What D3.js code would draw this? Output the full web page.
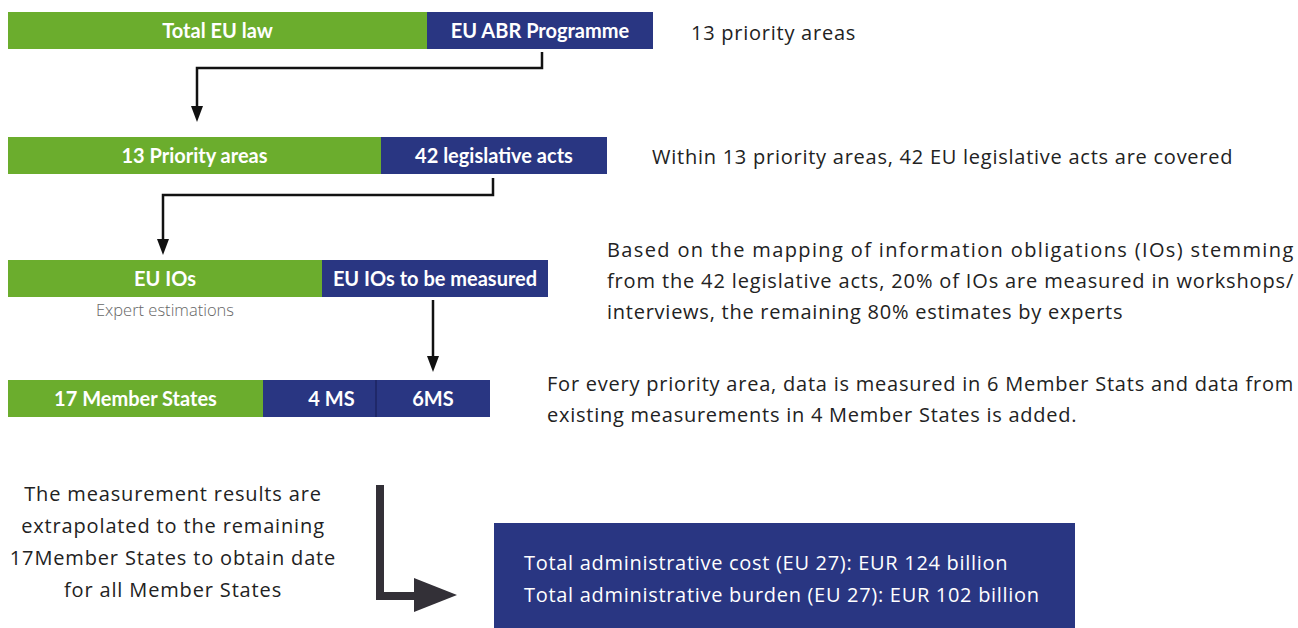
<!DOCTYPE html>
<html>
<head>
<meta charset="utf-8">
<script src="https://cdn.jsdelivr.net/npm/d3@7"></script>
<style>
  body { margin: 0; background: #fff; }
  svg text { font-family: "Open Sans", "Noto Sans", sans-serif; }
  svg text.bar-label { font-family: Lato, "Open Sans", sans-serif; }
</style>
</head>
<body>
<div id="chart"></div>
<script>
// Data
const rowNames = ['law', 'areas', 'ios', 'states'];
const segLabels = [
  ['Total EU law', 'EU ABR Programme'],
  ['13 Priority areas', '42 legislative acts'],
  ['EU IOs', 'EU IOs to be measured'],
  ['17 Member States', '4 MS', '6MS']
];
const segValues = [
  [419, 226],
  [373, 226],
  [314, 226],
  [255, 113, 114]
];
const segKinds = [
  ['green', 'blue'],
  ['green', 'blue'],
  ['green', 'blue'],
  ['green', 'blue', 'blue']
];
const notes = [
  ['13 priority areas'],
  ['Within 13 priority areas, 42 EU legislative acts are covered'],
  ['Based on the mapping of information obligations (IOs) stemming',
   'from the 42 legislative acts, 20% of IOs are measured in workshops/',
   'interviews, the remaining 80% estimates by experts'],
  ['For every priority area, data is measured in 6 Member Stats and data from',
   'existing measurements in 4 Member States is added.']
];
const subNote = 'Expert estimations';
const extrapolation = ['The measurement results are', 'extrapolated to the remaining',
  '17Member States to obtain date', 'for all Member States'];
const totals = ['Total administrative cost (EU 27): EUR 124 billion',
  'Total administrative burden (EU 27): EUR 102 billion'];

const W = 1298, H = 628;
const colors = {green: '#6bad2d', blue: '#293682', dark: '#333037', text: '#222'};

const svg = d3.select('#chart').append('svg').attr('width', W).attr('height', H);

const x = d3.scaleLinear().domain([0, 645]).range([8, 653]);
const rowTop = {law: 12, areas: 137, ios: 260, states: 380};
const barH = 37;

// bars
rowNames.forEach((r, i) => {
  let acc = 0;
  const segs = segValues[i].map((v, j) => {
    const s = {x0: acc, x1: acc + v, label: segLabels[i][j], kind: segKinds[i][j], j};
    acc += v; return s;
  });
  const g = svg.append('g').attr('transform', `translate(0,${rowTop[r]})`);
  g.selectAll('rect').data(segs).join('rect')
    .attr('x', d => x(d.x0)).attr('y', 0)
    .attr('width', d => x(d.x1) - x(d.x0)).attr('height', barH)
    .attr('fill', d => colors[d.kind]);
  g.selectAll('text').data(segs).join('text')
    .classed('bar-label', true)
    .attr('x', d => (x(d.x0) + x(d.x1)) / 2 + (i === 3 && d.j === 1 ? 12 : 0))
    .attr('y', barH / 2 + 7)
    .attr('text-anchor', 'middle')
    .attr('fill', '#fff').attr('font-weight', 700).attr('font-size', 20)
    .text(d => d.label);
  if (i === 3) {
    const xd = x(segValues[3][0] + segValues[3][1]);
    g.append('line').attr('x1', xd).attr('x2', xd)
      .attr('y1', 0).attr('y2', barH).attr('stroke', '#1d2560').attr('stroke-width', 1.5);
  }
});

// notes on the right
const noteX = [691, 652, 607, 547];
const noteY = [40, 164, 257, 391];
const noteRight = 1294;
const justify = [[], [], [true, true, false], [true, false]];
notes.forEach((lines, i) => {
  const t = svg.append('text').attr('fill', colors.text).attr('font-size', 20)
    .attr('letter-spacing', 0.75);
  lines.forEach((ln, k) => {
    const ts = t.append('tspan').attr('x', noteX[i]).attr('y', noteY[i] + k * 31).text(ln);
    if (justify[i][k]) ts.attr('textLength', noteRight - noteX[i]).attr('lengthAdjust', 'spacing');
  });
});

svg.append('text').attr('x', 165).attr('y', 316).attr('text-anchor', 'middle')
  .attr('fill', '#666').attr('font-size', 16.5).attr('font-weight', 300).text(subNote);

// thin connector arrows
const connectors = [
  [[542, 52], [542, 68], [197, 68], [197, 122]],
  [[493, 178], [493, 195], [163, 195], [163, 255]],
  [[433, 300], [433, 372]]
];
const line = d3.line();
connectors.forEach(pts => {
  const last = pts[pts.length - 1];
  const body = pts.slice(0, -1).concat([[last[0], last[1] - 14]]);
  svg.append('path').attr('d', line(body)).attr('fill', 'none')
    .attr('stroke', '#111').attr('stroke-width', 2.5);
  svg.append('path')
    .attr('d', `M${last[0] - 6},${last[1] - 16}L${last[0] + 6},${last[1] - 16}L${last[0]},${last[1]}Z`)
    .attr('fill', '#111');
});

// extrapolation text
const ex = svg.append('text').attr('text-anchor', 'middle').attr('fill', colors.text)
  .attr('font-size', 20).attr('letter-spacing', 0.85);
extrapolation.forEach((ln, k) => ex.append('tspan').attr('x', 173).attr('y', 501 + k * 32).text(ln));

// thick elbow arrow
svg.append('path').attr('d', line([[380, 485], [380, 596], [418, 596]]))
  .attr('fill', 'none').attr('stroke', colors.dark).attr('stroke-width', 8);
svg.append('path').attr('d', 'M414,578L457,595L414,612Z').attr('fill', colors.dark);

// totals box
svg.append('rect').attr('x', 494).attr('y', 523).attr('width', 581).attr('height', 105).attr('fill', colors.blue);
const tt = svg.append('text').attr('fill', '#fff').attr('font-size', 20).attr('letter-spacing', 0.7);
totals.forEach((ln, k) => tt.append('tspan').attr('x', 524).attr('y', 570 + k * 32).text(ln));
</script>
</body>
</html>
